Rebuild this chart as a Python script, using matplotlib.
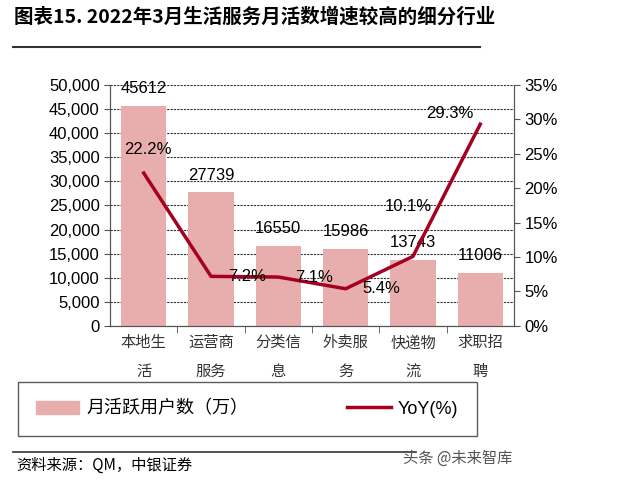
import matplotlib.pyplot as plt
from matplotlib.ticker import FuncFormatter, MultipleLocator
from matplotlib.lines import Line2D
from matplotlib.patches import Patch

plt.rcParams['font.family'] = ['Liberation Sans', 'Noto Sans CJK SC', 'DejaVu Sans']

categories = ["本地生\n活", "运营商\n服务", "分类信\n息", "外卖服\n务", "快递物\n流", "求职招\n聘"]
mau = [45612, 27739, 16550, 15986, 13743, 11006]
yoy = [22.2, 7.2, 7.1, 5.4, 10.1, 29.3]

bar_color = "#E8AEAE"
line_color = "#A50021"

fig = plt.figure(figsize=(6.4, 4.8), dpi=100)

# title and rule
fig.text(0.022, 0.965, "图表15. 2022年3月生活服务月活数增速较高的细分行业",
         fontsize=14, fontweight="bold", va="center", ha="left",
         family=['Noto Sans CJK SC', 'DejaVu Sans'])
fig.add_artist(Line2D([0.02, 0.75], [0.902, 0.902], color="#333333", lw=1.5))

ax = fig.add_axes([0.172, 0.321, 0.631, 0.502])
x = list(range(len(categories)))
ax.bar(x, mau, width=0.67, color=bar_color, zorder=2)
ax.set_ylim(0, 50000)
ax.set_xlim(-0.5, len(categories) - 0.5)
ax.yaxis.set_major_locator(MultipleLocator(5000))
ax.yaxis.set_major_formatter(FuncFormatter(lambda v, p: f"{int(v):,}"))
ax.grid(axis="y", color="#333333", linestyle=(0, (2, 1)), lw=0.8, zorder=0)
ax.set_xticks(x)
ax.set_xticklabels(categories, family=['Noto Sans CJK SC', 'DejaVu Sans'],
                   fontsize=11, color="#333333", linespacing=1.9)
ax.set_xticks([i + 0.5 for i in x[:-1]], minor=True)
ax.tick_params(axis="x", which="major", length=0, pad=6)
ax.tick_params(axis="x", which="minor", length=5, color="#555555")
ax.tick_params(axis="y", labelsize=12, length=4, color="#555555")
ax.spines["top"].set_visible(False)
for s in ["left", "bottom", "right"]:
    ax.spines[s].set_color("#555555")

for xi, v in zip(x, mau):
    ax.annotate(str(v), (xi, v), xytext=(0, 7), textcoords="offset points",
                ha="center", va="bottom", fontsize=12)

ax2 = ax.twinx()
ax2.plot(x, yoy, color=line_color, lw=2.5, zorder=3)
ax2.set_ylim(0, 35)
ax2.yaxis.set_major_locator(MultipleLocator(5))
ax2.yaxis.set_major_formatter(FuncFormatter(lambda v, p: f"{int(v)}%"))
ax2.tick_params(axis="y", labelsize=12, length=4, color="#555555")
ax2.spines["top"].set_visible(False)
for s in ["left", "bottom", "right"]:
    ax2.spines[s].set_color("#555555")

offsets = [(3, 17), (12, 0), (12, 0), (12, 0), (-3, 36), (-5, 8)]
aligns = ["center", "left", "left", "left", "center", "right"]
for xi, v, off, ha in zip(x, yoy, offsets, aligns):
    ax2.annotate(f"{v}%", (xi, v), xytext=off, textcoords="offset points",
                 ha=ha, va="center", fontsize=12)

# legend in a box below
handles = [Patch(color=bar_color), Line2D([], [], color=line_color, lw=2.5)]
labels = ["月活跃用户数（万）", "YoY(%)"]
leg = fig.legend(handles, labels, loc="center", bbox_to_anchor=(0.386, 0.148),
                 ncol=2, frameon=True, fancybox=False, edgecolor="#333333",
                 columnspacing=5.5, handlelength=2.4, handletextpad=0.4,
                 borderpad=1.0, borderaxespad=0,
                 prop={'family': ['Liberation Sans', 'Noto Sans CJK SC'], 'size': 13})
leg.get_frame().set_linewidth(1.0)

# footer
fig.add_artist(Line2D([0.02, 0.65], [0.058, 0.058], color="#333333", lw=1.2))
fig.text(0.025, 0.03, "资料来源：QM，中银证券", fontsize=11, style="italic",
         va="center", family=['Noto Sans CJK SC', 'DejaVu Sans'])
fig.text(0.80, 0.045, "头条 @未来智库", fontsize=11, color="#555555",
         ha="right", va="center", family=['Noto Sans CJK SC', 'DejaVu Sans'])

fig.savefig("out.png", dpi=100)
